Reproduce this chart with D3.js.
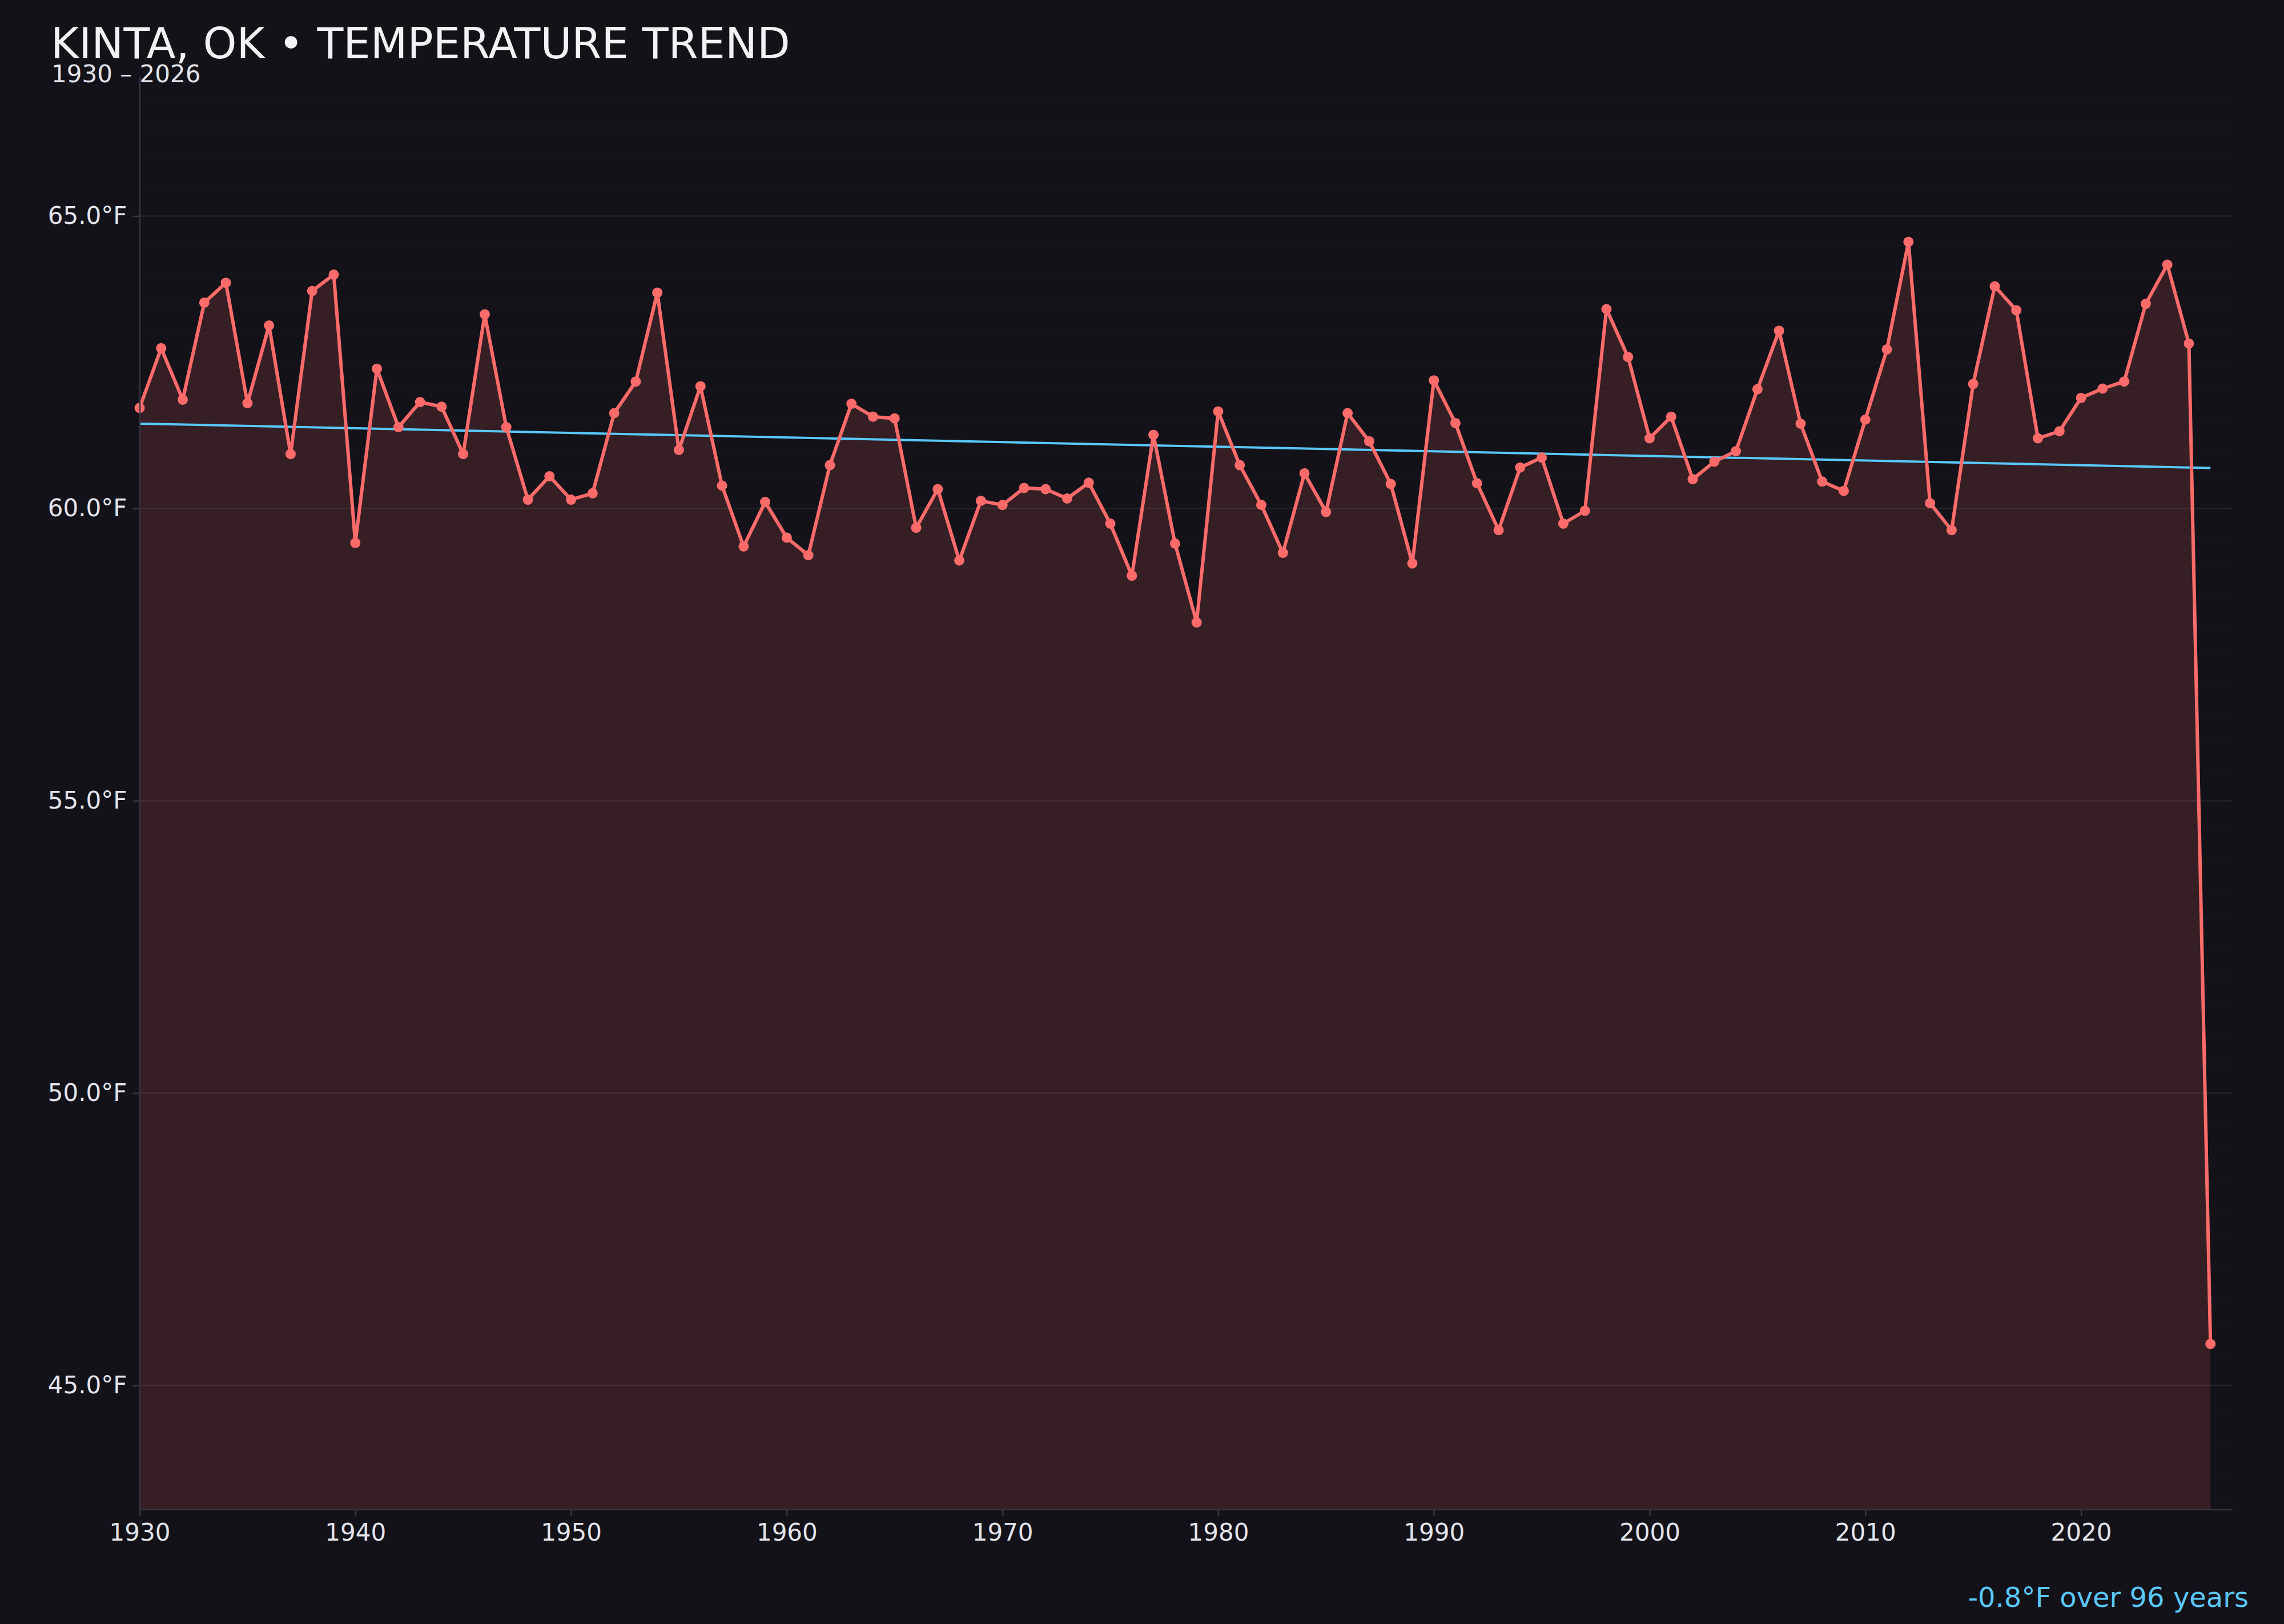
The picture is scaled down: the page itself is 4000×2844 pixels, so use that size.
<!DOCTYPE html>
<html>
<head>
<meta charset="utf-8">
<script src="https://cdn.jsdelivr.net/npm/d3@7"></script>
<style>
  html, body { margin: 0; padding: 0; background: #121218; }
  svg { display: block; }
</style>
</head>
<body>
<svg id="chart" width="4000" height="2844"></svg>
<script>
// ---------------- DATA ----------------
const years = [
  1930,1931,1932,1933,1934,1935,1936,1937,1938,1939,
  1940,1941,1942,1943,1944,1945,1946,1947,1948,1949,
  1950,1951,1952,1953,1954,1955,1956,1957,1958,1959,
  1960,1961,1962,1963,1964,1965,1966,1967,1968,1969,
  1970,1971,1972,1973,1974,1975,1976,1977,1978,1979,
  1980,1981,1982,1983,1984,1985,1986,1987,1988,1989,
  1990,1991,1992,1993,1994,1995,1996,1997,1998,1999,
  2000,2001,2002,2003,2004,2005,2006,2007,2008,2009,
  2010,2011,2012,2013,2014,2015,2016,2017,2018,2019,
  2020,2021,2022,2023,2024,2025,2026
];
const temps = [
  61.72,62.74,61.86,63.52,63.86,61.80,63.13,60.93,63.72,64.00,
  59.41,62.39,61.39,61.82,61.74,60.93,63.32,61.39,60.15,60.55,
  60.15,60.26,61.63,62.17,63.69,61.00,62.09,60.39,59.35,60.11,
  59.50,59.20,60.74,61.79,61.57,61.54,59.67,60.33,59.11,60.13,
  60.06,60.35,60.33,60.17,60.44,59.74,58.85,61.26,59.40,58.05,
  61.66,60.74,60.06,59.24,60.60,59.94,61.63,61.15,60.42,59.06,
  62.19,61.46,60.43,59.63,60.70,60.87,59.74,59.96,63.41,62.59,
  61.20,61.57,60.50,60.80,60.98,62.04,63.04,61.45,60.46,60.30,
  61.52,62.72,64.56,60.09,59.63,62.13,63.80,63.39,61.20,61.32,
  61.89,62.05,62.17,63.50,64.17,62.82,45.71
];
const xTicks = [1930,1940,1950,1960,1970,1980,1990,2000,2010,2020];
const yTicks = [45,50,55,60,65];
const titleText = "KINTA, OK \u2022 TEMPERATURE TREND";
const subtitleText = "1930 \u2013 2026";
const trendText = "-0.8\u00B0F over 96 years";

// ---------------- LAYOUT ----------------
const W = 4000, H = 2844;
const M = { left: 244.5, right: 3909, top: 134, bottom: 2643 };
const COLORS = {
  bg: "#121218", line: "#ff6b6b", trend: "#5ac8fa",
  axis: "#36363e", text: "#e4e4ea", title: "#f2f2f7"
};
const FONT = "'DejaVu Sans', 'Noto Sans', sans-serif";

const data = years.map((yr, i) => ({ year: yr, t: temps[i] }));

const x = d3.scaleLinear().domain([1930, 2027]).range([M.left, M.right]);
const lo = d3.min(temps), hi = d3.max(temps), pad = (hi - lo) * 0.15;
const y = d3.scaleLinear().domain([lo - pad, hi + pad]).range([M.bottom, M.top]);

const svg = d3.select("#chart");
svg.append("rect").attr("width", W).attr("height", H).attr("fill", COLORS.bg);

// area
const area = d3.area().x(d => x(d.year)).y0(M.bottom).y1(d => y(d.t));
svg.append("path").datum(data)
  .attr("d", area).attr("fill", COLORS.line).attr("fill-opacity", 0.15);

// gridlines (minor + major)
const grid = svg.append("g");
grid.selectAll("line.minor").data(y.ticks(50)).join("line")
  .attr("class", "minor")
  .attr("x1", M.left).attr("x2", M.right)
  .attr("y1", d => y(d)).attr("y2", d => y(d))
  .attr("stroke", "#ffffff").attr("stroke-opacity", 0.016).attr("stroke-width", 2.5);
grid.selectAll("line.major").data(yTicks).join("line")
  .attr("class", "major")
  .attr("x1", M.left).attr("x2", M.right)
  .attr("y1", d => y(d)).attr("y2", d => y(d))
  .attr("stroke", "#ffffff").attr("stroke-opacity", 0.05).attr("stroke-width", 3);

// trend (least squares)
const mx = d3.mean(years), my = d3.mean(temps);
const num = d3.sum(data, d => (d.year - mx) * (d.t - my));
const den = d3.sum(data, d => (d.year - mx) * (d.year - mx));
const slope = num / den, icpt = my - slope * mx;
const first = years[0], last = years[years.length - 1];
svg.append("line")
  .attr("x1", x(first)).attr("y1", y(icpt + slope * first))
  .attr("x2", x(last)).attr("y2", y(icpt + slope * last))
  .attr("stroke", COLORS.trend).attr("stroke-width", 4);

// line + dots
const line = d3.line().x(d => x(d.year)).y(d => y(d.t));
svg.append("path").datum(data)
  .attr("d", line).attr("fill", "none")
  .attr("stroke", COLORS.line).attr("stroke-width", 6)
  .attr("stroke-linejoin", "round");
svg.append("g").selectAll("circle").data(data).join("circle")
  .attr("cx", d => x(d.year)).attr("cy", d => y(d.t)).attr("r", 9)
  .attr("fill", COLORS.line);

// axes
const xAxis = d3.axisBottom(x).tickValues(xTicks).tickFormat(d3.format("d"))
  .tickSize(12).tickPadding(13).tickSizeOuter(0);
const yAxis = d3.axisLeft(y).tickValues(yTicks).tickFormat(d => d3.format(".1f")(d) + "\u00B0F")
  .tickSize(12).tickPadding(10).tickSizeOuter(0);

function styleAxis(g) {
  g.select(".domain").attr("stroke", COLORS.axis).attr("stroke-width", 2.5);
  g.selectAll(".tick line").attr("stroke", COLORS.axis).attr("stroke-width", 2.5);
  g.selectAll(".tick text").attr("fill", COLORS.text)
    .style("font-family", FONT).style("font-size", "42px");
}
svg.append("g").attr("transform", `translate(0,${M.bottom})`).call(xAxis).call(styleAxis);
svg.append("g").attr("transform", `translate(${M.left},0)`).call(yAxis).call(styleAxis);

// titles
svg.append("text").attr("x", 89).attr("y", 102)
  .attr("fill", COLORS.title).style("font-family", FONT).style("font-size", "75px")
  .text(titleText);
svg.append("text").attr("x", 90).attr("y", 144)
  .attr("fill", COLORS.text).style("font-family", FONT).style("font-size", "42px")
  .text(subtitleText);
svg.append("text").attr("x", 3938).attr("y", 2814).attr("text-anchor", "end")
  .attr("fill", COLORS.trend).style("font-family", FONT).style("font-size", "48px")
  .text(trendText);
</script>
</body>
</html>
